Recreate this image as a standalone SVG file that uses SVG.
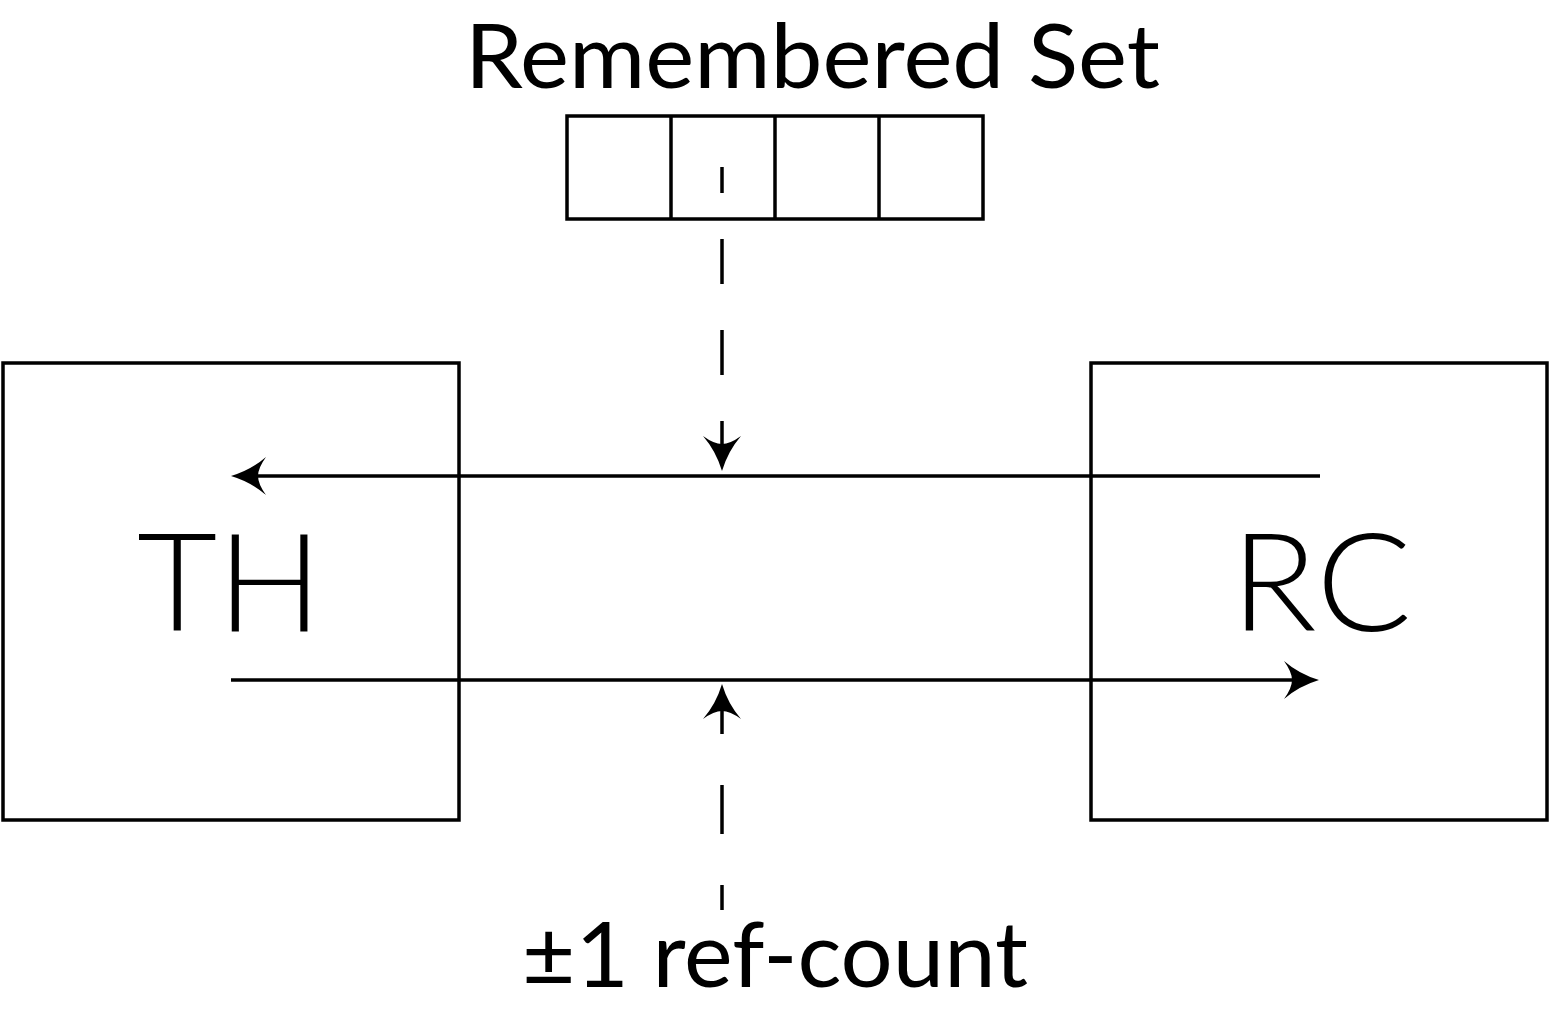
<svg xmlns="http://www.w3.org/2000/svg" width="1550" height="1011" viewBox="0 0 1550 1011">
<style>
.box{fill:none;stroke:#000;stroke-width:3.5}
.ln{fill:none;stroke:#000;stroke-width:3.5}
.lbl{font-family:Lato,"Open Sans","Liberation Sans",sans-serif;fill:#000}
.big{font-weight:300}
</style>
<defs>
<marker id="ah" markerUnits="userSpaceOnUse" viewBox="-36 -20 38 40" refX="-27" refY="0" markerWidth="38" markerHeight="40" orient="auto">
<path d="M0,0 Q-20,-6 -35,-19 Q-27,-8 -27,0 Q-27,8 -35,19 Q-20,6 0,0 Z" fill="#000"/>
</marker>
</defs>
<rect width="1550" height="1011" fill="#fff"/>
<g id="remembered-set">
<rect class="box" x="567" y="116" width="416" height="103"/>
<line class="ln" x1="671" y1="116" x2="671" y2="219"/>
<line class="ln" x1="775" y1="116" x2="775" y2="219"/>
<line class="ln" x1="879" y1="116" x2="879" y2="219"/>
<text class="lbl" x="465" y="88" font-size="90" textLength="695" lengthAdjust="spacingAndGlyphs">Remembered Set</text>
</g>
<g id="TH">
<rect class="box" x="3" y="363" width="456" height="457"/>
<text class="lbl big" x="137" y="631" font-size="136" textLength="185" lengthAdjust="spacingAndGlyphs">TH</text>
</g>
<g id="RC">
<rect class="box" x="1091" y="363" width="456" height="457"/>
<text class="lbl big" x="1231" y="631" font-size="136" textLength="181" lengthAdjust="spacingAndGlyphs">RC</text>
</g>
<g id="refcount">
<text class="lbl" x="522" y="987" font-size="92" textLength="506" lengthAdjust="spacingAndGlyphs">±1 ref-count</text>
</g>
<g id="connectors">
<line class="ln" x1="1320" y1="476" x2="258" y2="476" marker-end="url(#ah)"/>
<line class="ln" x1="231" y1="680" x2="1292" y2="680" marker-end="url(#ah)"/>
<line class="ln" x1="722" y1="167" x2="722" y2="193"/>
<line class="ln" x1="722" y1="239" x2="722" y2="444" stroke-dasharray="45 46" marker-end="url(#ah)"/>
<line class="ln" x1="722" y1="910" x2="722" y2="885"/>
<line class="ln" x1="722" y1="834" x2="722" y2="785"/>
<line class="ln" x1="722" y1="734" x2="722" y2="711" marker-end="url(#ah)"/>
</g>
</svg>
